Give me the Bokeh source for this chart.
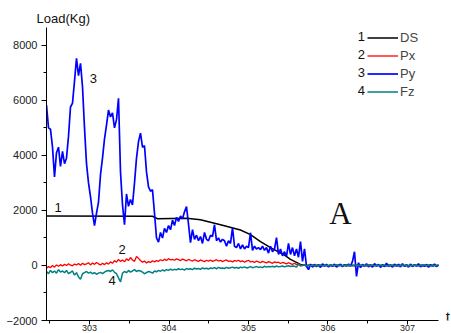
import numpy as np
from bokeh.plotting import figure
from bokeh.models import Range1d, Legend, LegendItem, Label, FixedTicker
from bokeh.embed import file_html
from bokeh.resources import INLINE

# ---- data ----
t_start, t_end = 302.459, 307.390

py = [5830, 5000, 4950, 4300, 3220, 4100, 4300, 3600, 4150, 3700,
      3900, 4700, 5760, 5900, 6700, 7530, 6900, 7350, 6500, 5000,
      3700, 3000, 2500, 1900, 1450, 1900, 2300, 3300, 3900, 4600,
      5100, 5650, 5400, 5550, 5000, 5300, 6080, 3400, 2200, 1480,
      2600, 2150, 2400, 2200, 3000, 3900, 4500, 4810, 4300, 4350,
      3400, 2860, 2700, 2750, 1900, 1000, 850, 1200, 1000, 1350,
      1200, 1450, 1300, 1650, 1450, 1750, 1600, 1800, 1700, 1950,
      2140, 1500, 830, 1300, 950, 1100, 900, 1050, 800, 1200,
      950, 900, 1100, 1050, 1480, 900, 1000, 850, 950, 900,
      700, 900, 800, 1370, 700, 650, 800, 600, 750, 600,
      700, 650, 1190, 550, 700, 600, 650, 580, 700, 550,
      650, 450, 700, 500, 600, 1010, 400, 600, 350, 500,
      330, 800, 400, 650, 350, 600, 300, 870, 150, 600,
      -30, -150, 50, -60, 40, -40, 30, -70, 60, -20,
      40, -50, 20, -30, 50, -60, 10, 40, -40, 30,
      -20, 50, -30, 150, 500, -400, 100, -80, 40, -30,
      60, -50, 20, -60, 70, -20, 40, -70, 30, -40,
      80, -30, 20, -60, 50, -20, 40, -50, 60, -30,
      20, -60, 50, -40, 30, -20, 60, -50, 20, -30,
      40, -60, 30, -20, 50, -40, 20]

px = [-100, -40, -80, 0, -60, 20, -30, 30,
      -20, 40, 0, 60, 10, -10, 50, 20,
      70, 10, 80, 30, 60, 100, 20, 90,
      40, 110, 60, 20, 80, 30, 100, 50,
      130, 80, 180, 120, 220, 150, 200, 130,
      240, 180, 290, 200, 150, 330, 260, 180,
      120, 160, 90, 140, 110, 170, 130, 180,
      150, 210, 170, 230, 180, 250, 200, 220,
      190, 240, 210, 180, 230, 200, 170, 220,
      190, 160, 210, 180, 150, 200, 170, 140,
      190, 160, 200, 150, 180, 210, 160, 190,
      140, 180, 200, 150, 170, 130, 180, 160,
      190, 140, 170, 120, 160, 190, 130, 150,
      110, 160, 130, 100, 150, 120, 90, 140,
      110, 80, 130, 100, 120, 70, 110, 90,
      60, 100, 70, 40, 80, 30, 50, 20,
      0, 30, -20, 10, -10, 20, -20, 0,
      10, -10, 20, -15, 5, -20, 15, 0, -10, 20,
      -5, 10, -15, 5, 20, -10, 0, 15, -20, 10,
      -5, 15, -10, 5, -15, 20, 0, -10, 10, -20,
      15, -5, 10, -15, 0, 20, -10, 5, -5, 15,
      -20, 10, 0, -15, 20, -10, 5, -5, 15, -10,
      0, 10, -20, 15, -5, 10, -15, 5, 0, -10,
      10]

fz = [-220, -300, -180, -260, -200, -280, -150, -240,
      -200, -260, -180, -300, -250, -200, -350, -260,
      -420, -500, -300, -260, -220, -280, -240, -300,
      -260, -320, -280, -250, -300, -240, -200, -180,
      -220, -160, -250, -300, -450, -600, -280, -220,
      -260, -180, -240, -200, -150, -220, -180, -200,
      -240, -300, -260, -220, -240, -280, -200, -230,
      -180, -210, -160, -200, -150, -180, -130, -170,
      -140, -160, -120, -150, -130, -170, -110, -140,
      -120, -150, -100, -130, -110, -140, -90, -120,
      -100, -130, -90, -110, -80, -120, -70, -100,
      -90, -110, -70, -100, -80, -60, -90, -70,
      -100, -60, -80, -50, -90, -70, -40, -80,
      -60, -40, -70, -50, -80, -30, -60, -40,
      -50, -30, -60, -20, -50, -40, -20, -50,
      -30, -10, -40, -20, -30, -60, 50, -20,
      0, 20, -10, 10, -20, 10, -10, 0,
      -10, 15, -20, 5, 10, -15, 20, -5, 0, 15,
      -10, 5, -20, 10, -5, 15, 0, -15, 20, -10,
      5, -5, 10, -20, 15, 0, -10, 20, -15, 5,
      -5, 10, -10, 15, -20, 5, 0, 10, -15, 20,
      -10, 0, 15, -5, 10, -20, 5, -10, 15, 0,
      -15, 10, -5, 20, -10, 5, -15, 10, 0, -5,
      10]

ds_t = [302.459, 303.792, 303.855, 304.220, 304.396, 304.522, 304.648,
        304.899, 305.025, 305.151, 305.277, 305.440, 305.528, 305.654,
        305.717, 307.390]
ds = [1800, 1790, 1700, 1720, 1660, 1570, 1480, 1290, 1120, 870, 650,
      400, 220, 40, 0, 0]

x_ticks = [303, 304, 305, 306, 307]
y_ticks = [-2000, 0, 2000, 4000, 6000, 8000]
y_top = 8650

t = np.linspace(t_start, t_end, len(py))

FONT = "Liberation Sans"

p = figure(width=451, height=333, output_backend="svg", toolbar_location=None,
           x_range=Range1d(t_start, 307.541), y_range=Range1d(-2000, y_top),
           min_border_left=46, min_border_right=1, min_border_top=27,
           min_border_bottom=12, title="Load(Kg)")
p.outline_line_color = None
p.xgrid.visible = False
p.ygrid.visible = False
p.background_fill_color = "white"

p.title.align = "left"
p.title.offset = -10
p.title.standoff = 3
p.title.text_font = FONT
p.title.text_font_size = "13px"
p.title.text_font_style = "normal"
p.title.text_color = "#111111"

r_ds = p.line(ds_t, ds, line_color="black", line_width=1.5)
r_px = p.line(t, px, line_color="#ff0000", line_width=1.3)
r_py = p.line(t, py, line_color="#0000ff", line_width=1.7)
r_fz = p.line(t, fz, line_color="#008080", line_width=1.5)

for ax in (p.xaxis[0], p.yaxis[0]):
    ax.axis_line_color = "black"
    ax.major_tick_line_color = "black"
    ax.minor_tick_line_color = "black"
    ax.major_tick_in = 0
    ax.minor_tick_in = 0
    ax.major_label_text_font = FONT
    ax.major_label_text_color = "#222222"

p.xaxis.bounds = (t_start, t_end)
p.yaxis.bounds = (-2000, y_top)
p.xaxis.ticker = FixedTicker(ticks=x_ticks,
                             minor_ticks=[302.5, 303.5, 304.5, 305.5, 306.5])
p.yaxis.ticker = FixedTicker(ticks=y_ticks,
                             minor_ticks=[-1000, 1000, 3000, 5000, 7000])
p.xaxis.major_tick_out = 4
p.xaxis.minor_tick_out = 3
p.xaxis.major_label_standoff = 0
p.xaxis.major_label_text_font_size = "9px"
p.yaxis.major_tick_out = 5
p.yaxis.minor_tick_out = 3
p.yaxis.major_label_standoff = 4
p.yaxis.major_label_text_font_size = "11px"

legend = Legend(items=[LegendItem(label="DS", renderers=[r_ds]),
                       LegendItem(label="Px", renderers=[r_px]),
                       LegendItem(label="Py", renderers=[r_py]),
                       LegendItem(label="Fz", renderers=[r_fz])],
                location=(321, 221), glyph_width=31, glyph_height=15,
                label_height=15, spacing=3, padding=0, margin=0,
                label_standoff=2, label_text_font=FONT,
                label_text_font_size="13px", border_line_alpha=0,
                background_fill_alpha=0)
p.add_layout(legend)

def lab(x, y, text, size="13px", font=FONT, align="center"):
    p.add_layout(Label(x=x, y=y, text=text, text_font=font,
                       text_font_size=size, text_align=align,
                       text_baseline="middle", text_color="#111111"))

lab(302.604, 2100, "1")
lab(303.409, 579, "2")
lab(303.050, 6805, "3")
lab(303.283, -543, "4")
for k, yy in enumerate([8320, 7670, 7020, 6370]):
    lab(306.421, yy, str(k + 1))
lab(306.157, 1882, "A", size="31px", font="Liberation Serif")
lab(307.508, -1860, "t", size="15px")

open("out.html", "w").write(file_html(p, INLINE))
